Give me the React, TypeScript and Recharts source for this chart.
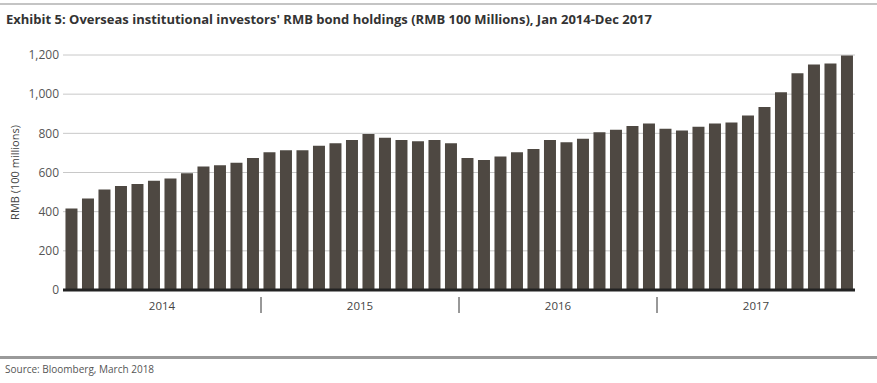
import React from 'react';
import { BarChart, Bar, XAxis, YAxis, CartesianGrid } from 'recharts';

const TITLE = "Exhibit 5: Overseas institutional investors' RMB bond holdings (RMB 100 Millions), Jan 2014-Dec 2017";
const SOURCE = 'Source: Bloomberg, March 2018';
const Y_LABEL = 'RMB (100 millions)';

const years = ['2014', '2015', '2016', '2017'];
const monthNames = ['Jan', 'Feb', 'Mar', 'Apr', 'May', 'Jun', 'Jul', 'Aug', 'Sep', 'Oct', 'Nov', 'Dec'];

const holdings2014 = [416, 467, 513, 531, 541, 558, 569, 596, 631, 637, 650, 674];
const holdings2015 = [704, 713, 713, 737, 750, 766, 796, 777, 766, 760, 766, 750];
const holdings2016 = [674, 664, 682, 704, 720, 766, 755, 772, 806, 818, 837, 850];
const holdings2017 = [823, 815, 833, 850, 855, 891, 934, 1010, 1107, 1152, 1156, 1198];

const yTicks = [0, 200, 400, 600, 800, 1000, 1200];

const seriesByYear = [holdings2014, holdings2015, holdings2016, holdings2017];

const data = years.flatMap((yr, yi) =>
  monthNames.map((m, mi) => ({
    month: `${m} ${yr}`,
    year: yr,
    value: seriesByYear[yi][mi],
  }))
);

const FONT = '"Open Sans", "DejaVu Sans", sans-serif';

const YearTick = (props: any) => {
  const { x, y, payload, index } = props;
  const half = payload && typeof payload.offset === 'number' && payload.offset > 0 ? payload.offset : 99;
  const isLast = index === years.length - 1;
  return (
    <g>
      <text
        x={x}
        y={y + 18}
        textAnchor="middle"
        fontSize={11.5}
        fill="#444"
        fontFamily={FONT}
      >
        {payload.value}
      </text>
      {!isLast && (
        <line x1={x + half} x2={x + half} y1={y + 5} y2={y + 21} stroke="#333" strokeWidth={1} />
      )}
    </g>
  );
};

export default function App() {
  return (
    <div
      style={{
        position: 'absolute',
        left: 0,
        top: 0,
        width: 877,
        height: 383,
        background: '#fff',
        fontFamily: FONT,
        overflow: 'hidden',
      }}
    >
      <div style={{ position: 'absolute', left: 0, top: 3, width: 877, height: 2, background: '#c4c4c4' }} />
      <div
        style={{
          position: 'absolute',
          left: 6,
          top: 11,
          fontSize: 13,
          fontWeight: 700,
          color: '#333',
          whiteSpace: 'nowrap',
          lineHeight: '16px',
        }}
      >
        {TITLE}
      </div>
      <div style={{ position: 'absolute', left: 0, top: 0 }}>
        <BarChart
          width={877}
          height={330}
          data={data}
          margin={{ top: 55, right: 22, left: 0, bottom: 0 }}
          barCategoryGap="15%"
        >
          <CartesianGrid vertical={false} stroke="#c8c8c8" strokeWidth={1} />
          <XAxis
            xAxisId={0}
            dataKey="month"
            tick={false}
            tickLine={false}
            height={2}
            axisLine={{ stroke: '#222', strokeWidth: 3 }}
          />
          <XAxis
            xAxisId="year"
            dataKey="year"
            allowDuplicatedCategory={false}
            axisLine={false}
            tickLine={false}
            tickSize={0}
            tickMargin={0}
            height={38}
            interval={0}
            tick={<YearTick />}
          />
          <YAxis
            width={63}
            domain={[0, 1200]}
            ticks={yTicks}
            axisLine={false}
            tickLine={false}
            tickSize={4}
            tickMargin={0}
            tick={{ fontSize: 12, fill: '#555', fontFamily: FONT }}
            tickFormatter={(v: number) => v.toLocaleString('en-US')}
            label={{
              value: Y_LABEL,
              angle: -90,
              position: 'insideLeft',
              offset: 15,
              style: { textAnchor: 'middle', fontSize: 11, fill: '#444', fontFamily: FONT },
            }}
          />
          <Bar dataKey="value" xAxisId={0} fill="#4e4842" isAnimationActive={false} />
        </BarChart>
      </div>
      <div style={{ position: 'absolute', left: 0, top: 356, width: 877, height: 3, background: '#9a9a9a' }} />
      <div
        style={{
          position: 'absolute',
          left: 5,
          top: 362,
          fontSize: 10,
          color: '#555',
          whiteSpace: 'nowrap',
          lineHeight: '14px',
        }}
      >
        {SOURCE}
      </div>
    </div>
  );
}
